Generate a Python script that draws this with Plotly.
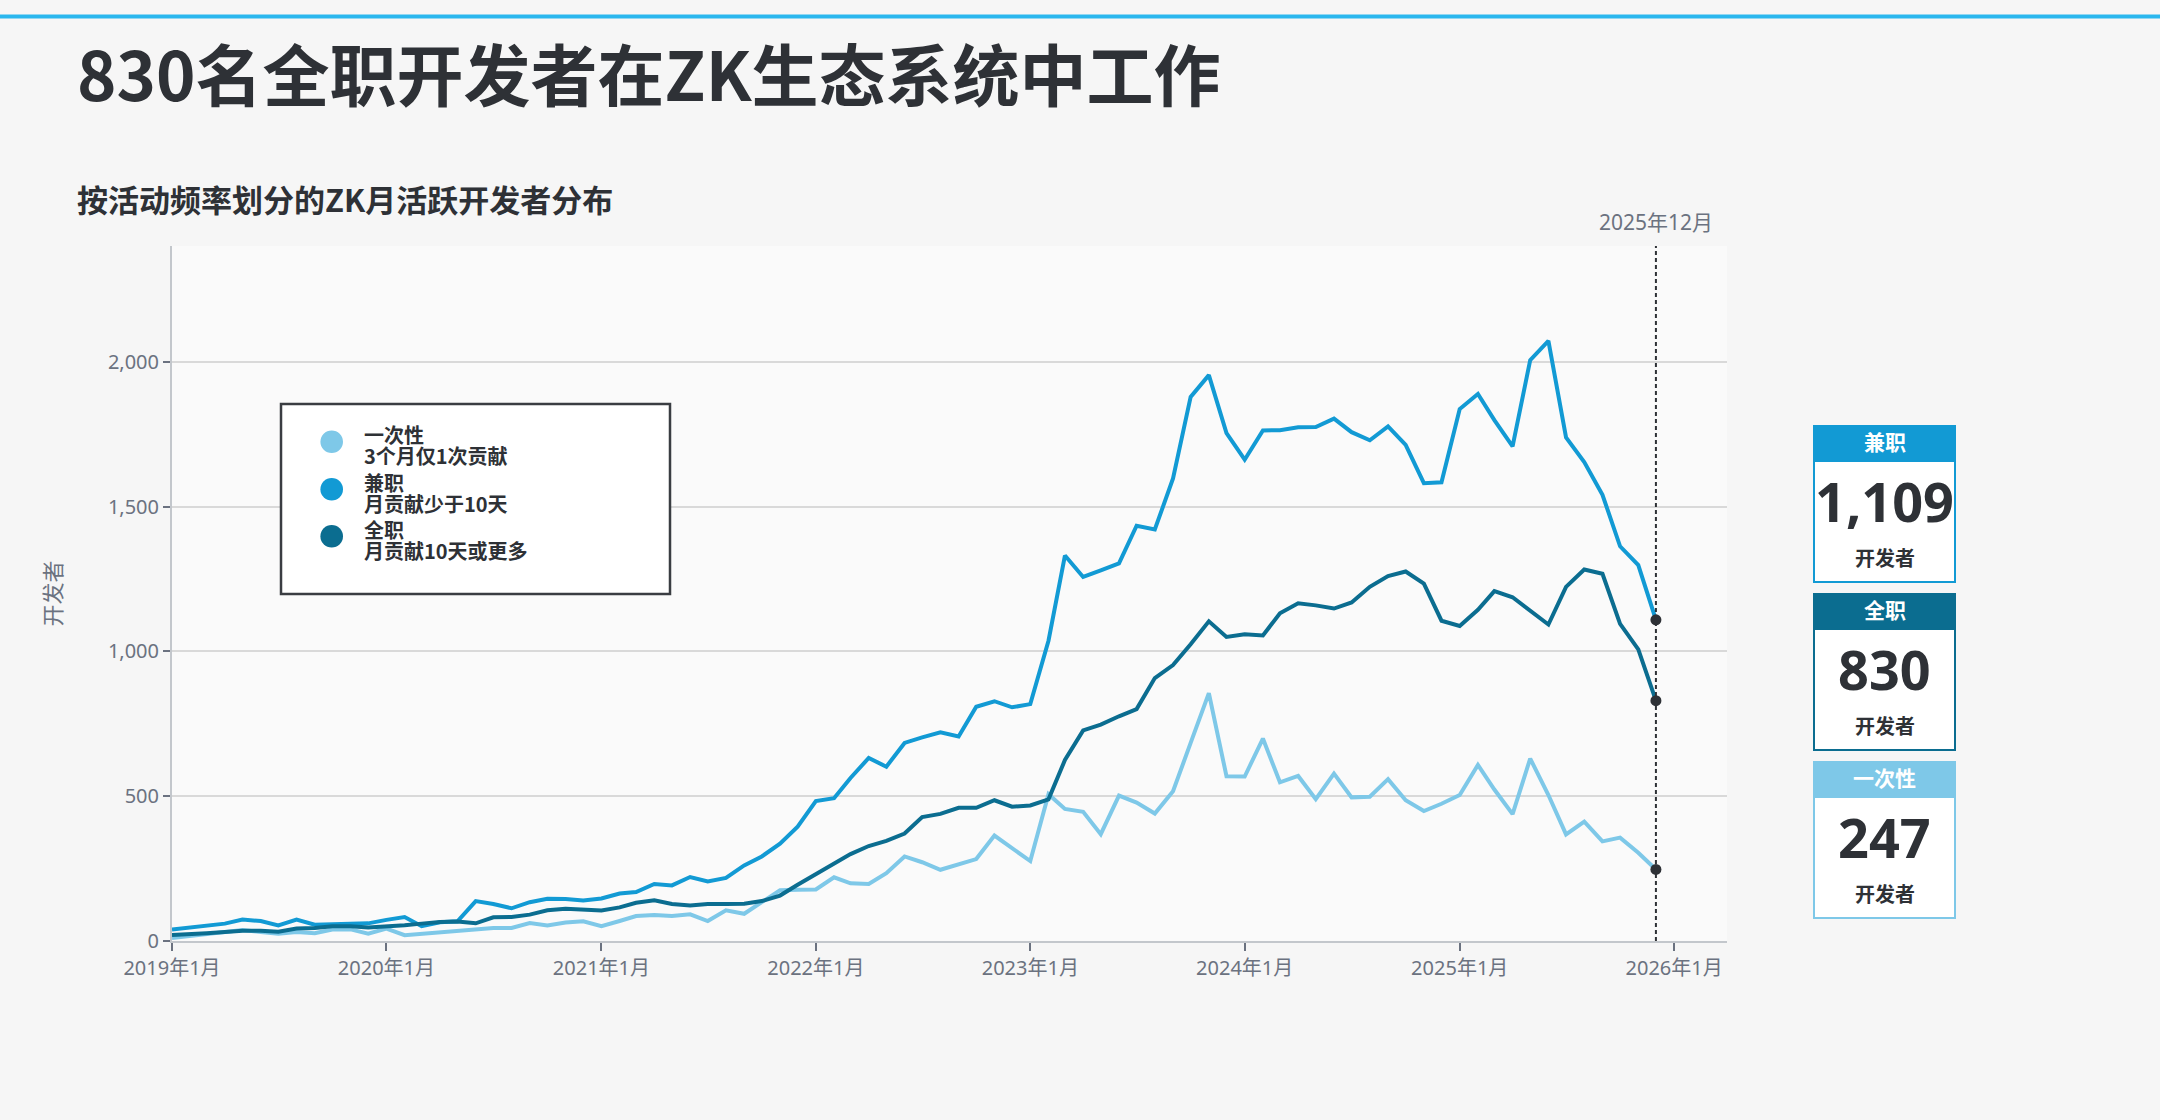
import plotly.graph_objects as go
import pandas as pd

# monthly active ZK developers, 2019-01 .. 2025-12
months = pd.date_range("2019-01-01", "2025-12-01", freq="MS")

one_time = [10, 17, 25, 32, 38, 31, 25, 31, 27, 40, 40, 25,
            43, 20, 25, 29, 36, 39, 45, 45, 62, 54, 64, 68,
            51, 69, 86, 90, 86, 92, 69, 106, 94, 134, 175, 177,
            178, 220, 199, 197, 234, 292, 272, 246, 263, 283, 364, 320,
            276, 507, 456, 446, 369, 502, 478, 440, 517, 684, 856, 569,
            568, 699, 548, 570, 490, 578, 496, 498, 559, 486, 449, 474,
            504, 608, 523, 438, 630, 504, 368, 412, 344, 357, 305, 247]

part_time = [40, 46, 51, 60, 74, 69, 54, 74, 56, 58, 58, 61,
             73, 83, 51, 65, 68, 138, 128, 113, 134, 146, 145, 140,
             147, 164, 169, 197, 192, 221, 206, 218, 261, 292, 336, 395,
             483, 493, 563, 632, 602, 684, 703, 721, 706, 809, 828, 807,
             818, 1037, 1331, 1257, 1280, 1304, 1434, 1421, 1597, 1879, 1954, 1754,
             1662, 1763, 1764, 1774, 1775, 1804, 1757, 1729, 1777, 1713, 1581, 1584,
             1837, 1889, 1799, 1708, 2006, 2072, 1739, 1654, 1541, 1363, 1298, 1109]

full_time = [21, 23, 27, 31, 35, 35, 32, 43, 45, 51, 51, 47,
             49, 54, 60, 66, 67, 61, 82, 83, 91, 106, 111, 109,
             105, 116, 132, 141, 128, 123, 128, 128, 129, 138, 157, 194,
             230, 264, 300, 328, 346, 371, 428, 439, 460, 460, 486, 464,
             468, 489, 625, 727, 747, 776, 801, 908, 953, 1025, 1104, 1050,
             1059, 1055, 1132, 1166, 1159, 1148, 1169, 1223, 1260, 1276, 1234, 1106,
             1088, 1144, 1208, 1187, 1140, 1093, 1223, 1283, 1268, 1095, 1007, 830]

names = ["一次性", "兼职", "全职"]
notes = ["3个月仅1次贡献", "月贡献少于10天", "月贡献10天或更多"]
colors = ["#7EC8E8", "#129AD4", "#0B6D90"]
series = [one_time, part_time, full_time]

year_ticks = ["2019-01-01", "2020-01-01", "2021-01-01", "2022-01-01",
              "2023-01-01", "2024-01-01", "2025-01-01", "2026-01-01"]
year_labels = ["2019年1月", "2020年1月", "2021年1月", "2022年1月",
               "2023年1月", "2024年1月", "2025年1月", "2026年1月"]
y_ticks = [0, 500, 1000, 1500, 2000]

DARK = "#2E3136"
GREY = "#6B7280"
CJK = "Noto Sans CJK SC"

# plot area in pixels
L, R, T, B = 172, 1727, 246, 941


def px(x):
    return (x - L) / (R - L)


def py(y):
    return (B - y) / (B - T)


fig = go.Figure()

for s, name, col in zip(series, names, colors):
    fig.add_trace(go.Scatter(x=months, y=s, name=name, mode="lines",
                             line=dict(color=col, width=4), showlegend=False))

fig.add_trace(go.Scatter(x=[months[-1]] * 3, y=[s[-1] for s in series], mode="markers",
                         marker=dict(color=DARK, size=11), showlegend=False, cliponaxis=False))

shapes = []
annos = []

# top accent line
shapes.append(dict(type="line", xref="paper", yref="paper", x0=px(0), x1=px(2160),
                   y0=py(16.5), y1=py(16.5), line=dict(color="#2BB7EE", width=4)))
# current month marker line
shapes.append(dict(type="line", xref="x", yref="paper", x0=months[-1], x1=months[-1],
                   y0=0, y1=1, line=dict(color=DARK, width=2, dash="4px,3px")))

annos.append(dict(text="830名全职开发者在ZK生态系统中工作", xref="paper", yref="paper",
                  x=px(75), y=py(72), xanchor="left", yanchor="middle", showarrow=False,
                  font=dict(family=CJK, size=67, color=DARK, weight="bold")))
annos.append(dict(text="按活动频率划分的ZK月活跃开发者分布", xref="paper", yref="paper",
                  x=px(75), y=py(199), xanchor="left", yanchor="middle", showarrow=False,
                  font=dict(family=CJK, size=31, color=DARK, weight="bold")))
annos.append(dict(text="2025年12月", xref="x", yref="paper", x=months[-1], y=py(222),
                  xanchor="center", yanchor="middle", showarrow=False,
                  font=dict(family="Noto Sans, " + CJK, size=21, color=GREY)))

# legend box (two tight lines per item, as in the original)
shapes.append(dict(type="rect", xref="paper", yref="paper", x0=px(281), x1=px(670),
                   y0=py(594), y1=py(404), fillcolor="#FFFFFF",
                   line=dict(color="#3A3D42", width=2.5)))
leg_y = [441.7, 489.3, 536.3]
for i in range(3):
    shapes.append(dict(type="circle", xref="paper", yref="paper",
                       xsizemode="pixel", ysizemode="pixel",
                       xanchor=px(331.7), yanchor=py(leg_y[i]),
                       x0=-11.3, x1=11.3, y0=-11.3, y1=11.3,
                       fillcolor=colors[i], line=dict(width=0)))
    annos.append(dict(text=names[i], xref="paper", yref="paper", x=px(363), y=py(leg_y[i] - 7),
                      xanchor="left", yanchor="middle", showarrow=False, borderpad=0,
                      font=dict(family=CJK, size=20, color=DARK, weight="bold")))
    annos.append(dict(text=notes[i], xref="paper", yref="paper", x=px(363), y=py(leg_y[i] + 14),
                      xanchor="left", yanchor="middle", showarrow=False, borderpad=0,
                      font=dict(family=CJK, size=20, color=DARK, weight="bold")))

# summary cards on the right
card_order = [1, 2, 0]
card_tops = [426, 594, 762]
cx0, cx1 = 1814, 1955
for top, i in zip(card_tops, card_order):
    shapes.append(dict(type="rect", xref="paper", yref="paper", x0=px(cx0), x1=px(cx1),
                       y0=py(top + 156), y1=py(top), fillcolor="#FFFFFF",
                       line=dict(color=colors[i], width=2)))
    shapes.append(dict(type="rect", xref="paper", yref="paper", x0=px(cx0), x1=px(cx1),
                       y0=py(top + 35), y1=py(top), fillcolor=colors[i],
                       line=dict(color=colors[i], width=2)))
    mid = px((cx0 + cx1) / 2)
    annos.append(dict(text=names[i], xref="paper", yref="paper", x=mid, y=py(top + 15),
                      xanchor="center", yanchor="middle", showarrow=False,
                      font=dict(family=CJK, size=21, color="#FFFFFF", weight="bold")))
    annos.append(dict(text=f"{series[i][-1]:,}", xref="paper", yref="paper", x=mid, y=py(top + 75),
                      xanchor="center", yanchor="middle", showarrow=False,
                      font=dict(family="Noto Sans", size=54, color=DARK, weight="bold")))
    annos.append(dict(text="开发者", xref="paper", yref="paper", x=mid, y=py(top + 131),
                      xanchor="center", yanchor="middle", showarrow=False,
                      font=dict(family=CJK, size=20, color=DARK, weight="bold")))

fig.update_layout(
    width=2160, height=1120,
    margin=dict(l=L, r=2160 - R, t=T, b=1120 - B),
    paper_bgcolor="#F6F6F6", plot_bgcolor="#FAFAFA",
    shapes=shapes, annotations=annos, showlegend=False,
    font=dict(family="Noto Sans, " + CJK, color=GREY),
)
fig.update_xaxes(type="date", range=["2019-01-01", "2026-04-01"], showgrid=False,
                 showline=True, linecolor="#C3C7CC", linewidth=2,
                 ticks="outside", ticklen=8, tickwidth=2, tickcolor=GREY,
                 tickvals=year_ticks, ticktext=year_labels,
                 tickfont=dict(size=20, color=GREY))
fig.update_yaxes(range=[0, 2400], tickvals=y_ticks, tickformat=",",
                 showgrid=True, gridcolor="#D9D9D9", gridwidth=1.5, zeroline=False,
                 showline=True, linecolor="#C3C7CC", linewidth=2,
                 ticks="outside", ticklen=7, tickwidth=2, tickcolor=GREY,
                 tickfont=dict(size=20, color=GREY),
                 title=dict(text="开发者", font=dict(size=22, color=GREY), standoff=40))

# drop the default page margin so the figure sits flush in the window
fig.write_html("out.html", config={"displayModeBar": False},
               post_script="document.body.style.margin = '0';")
